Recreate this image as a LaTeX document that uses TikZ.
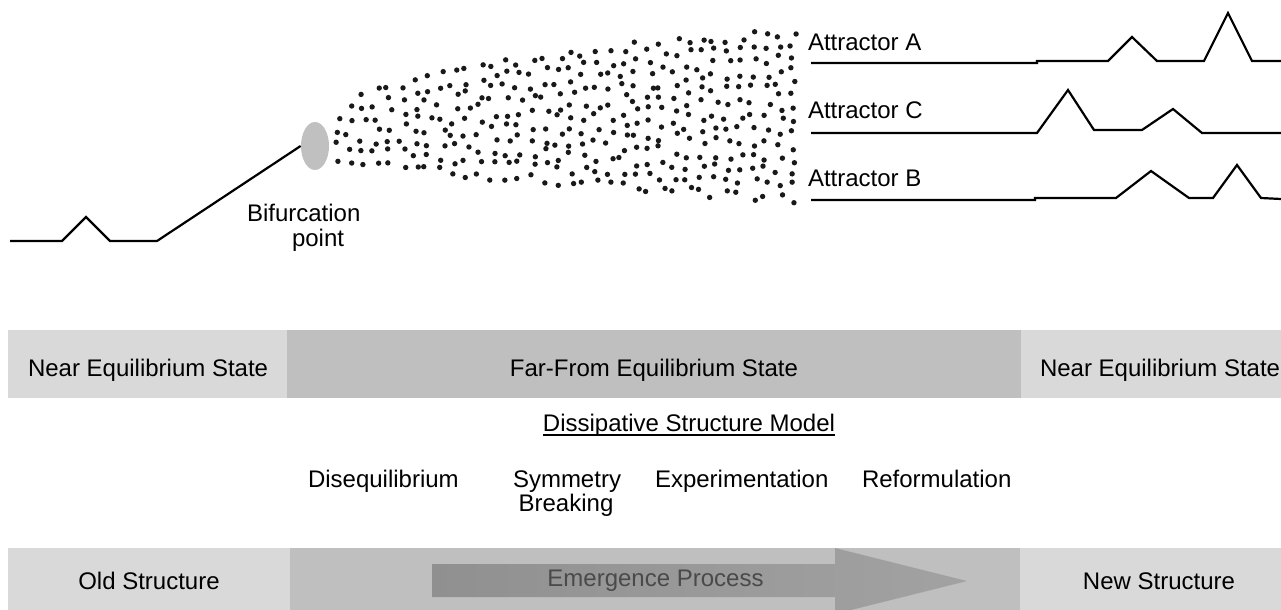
\documentclass[tikz,border=0pt]{standalone}
\usepackage{fontspec}
\setmainfont{Liberation Sans}
\usetikzlibrary{shapes.geometric}
\definecolor{lightbox}{HTML}{D9D9D9}
\definecolor{darkbox}{HTML}{BFBFBF}
\definecolor{bifgray}{HTML}{C0C0C0}
\definecolor{arrL}{HTML}{909090}
\definecolor{arrR}{HTML}{A2A2A2}
\definecolor{emtext}{HTML}{4A4A4A}
\tikzset{
  lbl/.style={inner sep=0pt, outer sep=0pt, font=\fontsize{12}{14}\selectfont},
  curve/.style={line width=1.1pt, line join=miter},
  dot/.style={fill=black!90}
}
\begin{document}
\begin{tikzpicture}[x=0.5pt,y=-0.5pt]
\useasboundingbox (0,0) rectangle (1281,610);
% ---- top-left trajectory and bifurcation point
\node[ellipse, fill=bifgray, minimum width=14pt, minimum height=24pt, inner sep=0pt] (bif) at (315,146) {};
\draw[curve] (10,241) -- (62,241) -- (86,217) -- (110,241) -- (157,241) -- (bif.west);
\node[lbl, anchor=base west] (bif1) at (247,221) {Bifurcation};
\node[lbl, anchor=base west] (bif2) at (292,247) {point};
% ---- scattered cloud
\pgfmathsetseed{4242}
\foreach \i in {0,...,35} {
  \pgfmathsetmacro\xx{337+13*\i}
  \pgfmathsetmacro\t{(\xx-335)/465}
  \pgfmathsetmacro\h{23+67*sqrt(\t)}
  \pgfmathsetmacro\c{116+25*(1-sqrt(\t))^2}
  \pgfmathtruncatemacro\n{max(1,round(2*\h/13))}
  \foreach \j in {1,...,\n} {
    \pgfmathsetmacro\yy{\c-\h+(\j-0.5)*2*\h/\n+4.5*rand}
    \pgfmathsetmacro\xj{\xx+4.5*rand}
    \fill[dot] (\xj,\yy) circle (2.7);
  }
}
% ---- attractors
\node[lbl, anchor=base west] (atA) at (808,51) {Attractor A};
\node[lbl, anchor=base west] (atC) at (808,119) {Attractor C};
\node[lbl, anchor=base west] (atB) at (808,187) {Attractor B};
\draw[curve] (811,63) -- (1037,63) -- (1037,61) -- (1108,61) -- (1132,37) -- (1157,61) -- (1204,61) -- (1228,13) -- (1252,61) -- (1281,61);
\draw[curve] (811,133) -- (1037,133) -- (1068,90) -- (1094,130) -- (1142,130) -- (1173,109) -- (1202,133) -- (1281,133);
\draw[curve] (811,200) -- (1035,200) -- (1035,198) -- (1116,198) -- (1151,171) -- (1189,198) -- (1213,198) -- (1237,165) -- (1261,198) -- (1281,199);
% ---- state band
\fill[lightbox] (8,330) rectangle (287,398);
\fill[darkbox] (287,330) rectangle (1021,398);
\fill[lightbox] (1021,330) rectangle (1281,398);
\node[lbl, anchor=base west] (near1) at (28,376) {Near Equilibrium State};
\node[lbl, anchor=base] (far) at (654,376) {Far-From Equilibrium State};
\node[lbl, anchor=base west] (near2) at (1040,376) {Near Equilibrium State};
% ---- model
\node[lbl, anchor=base] (dsm) at (689,431) {Dissipative Structure Model};
\draw[line width=0.9pt] ([yshift=-2pt]dsm.base west) -- ([yshift=-2pt]dsm.base east);
\node[lbl, anchor=base west] (diseq) at (308,487) {Disequilibrium};
\node[lbl, anchor=base] (sym) at (567,487) {Symmetry};
\node[lbl, anchor=base] (brk) at (566,511) {Breaking};
\node[lbl, anchor=base west] (exper) at (655,487) {Experimentation};
\node[lbl, anchor=base west] (reform) at (862,487) {Reformulation};
% ---- structure band
\fill[lightbox] (8,548) rectangle (290,612);
\fill[darkbox] (290,548) rectangle (1020,612);
\fill[lightbox] (1020,548) rectangle (1281,612);
\shade[left color=arrL, right color=arrR] (432,564) -- (835,564) -- (835,548) -- (967,581) -- (835,614) -- (835,597) -- (432,597) -- cycle;
\node[lbl, anchor=base, text=emtext] (emerg) at (655.5,586) {Emergence Process};
\node[lbl, anchor=base] (old) at (149,589) {Old Structure};
\node[lbl, anchor=base] (new) at (1159,589) {New Structure};
\end{tikzpicture}
\end{document}
